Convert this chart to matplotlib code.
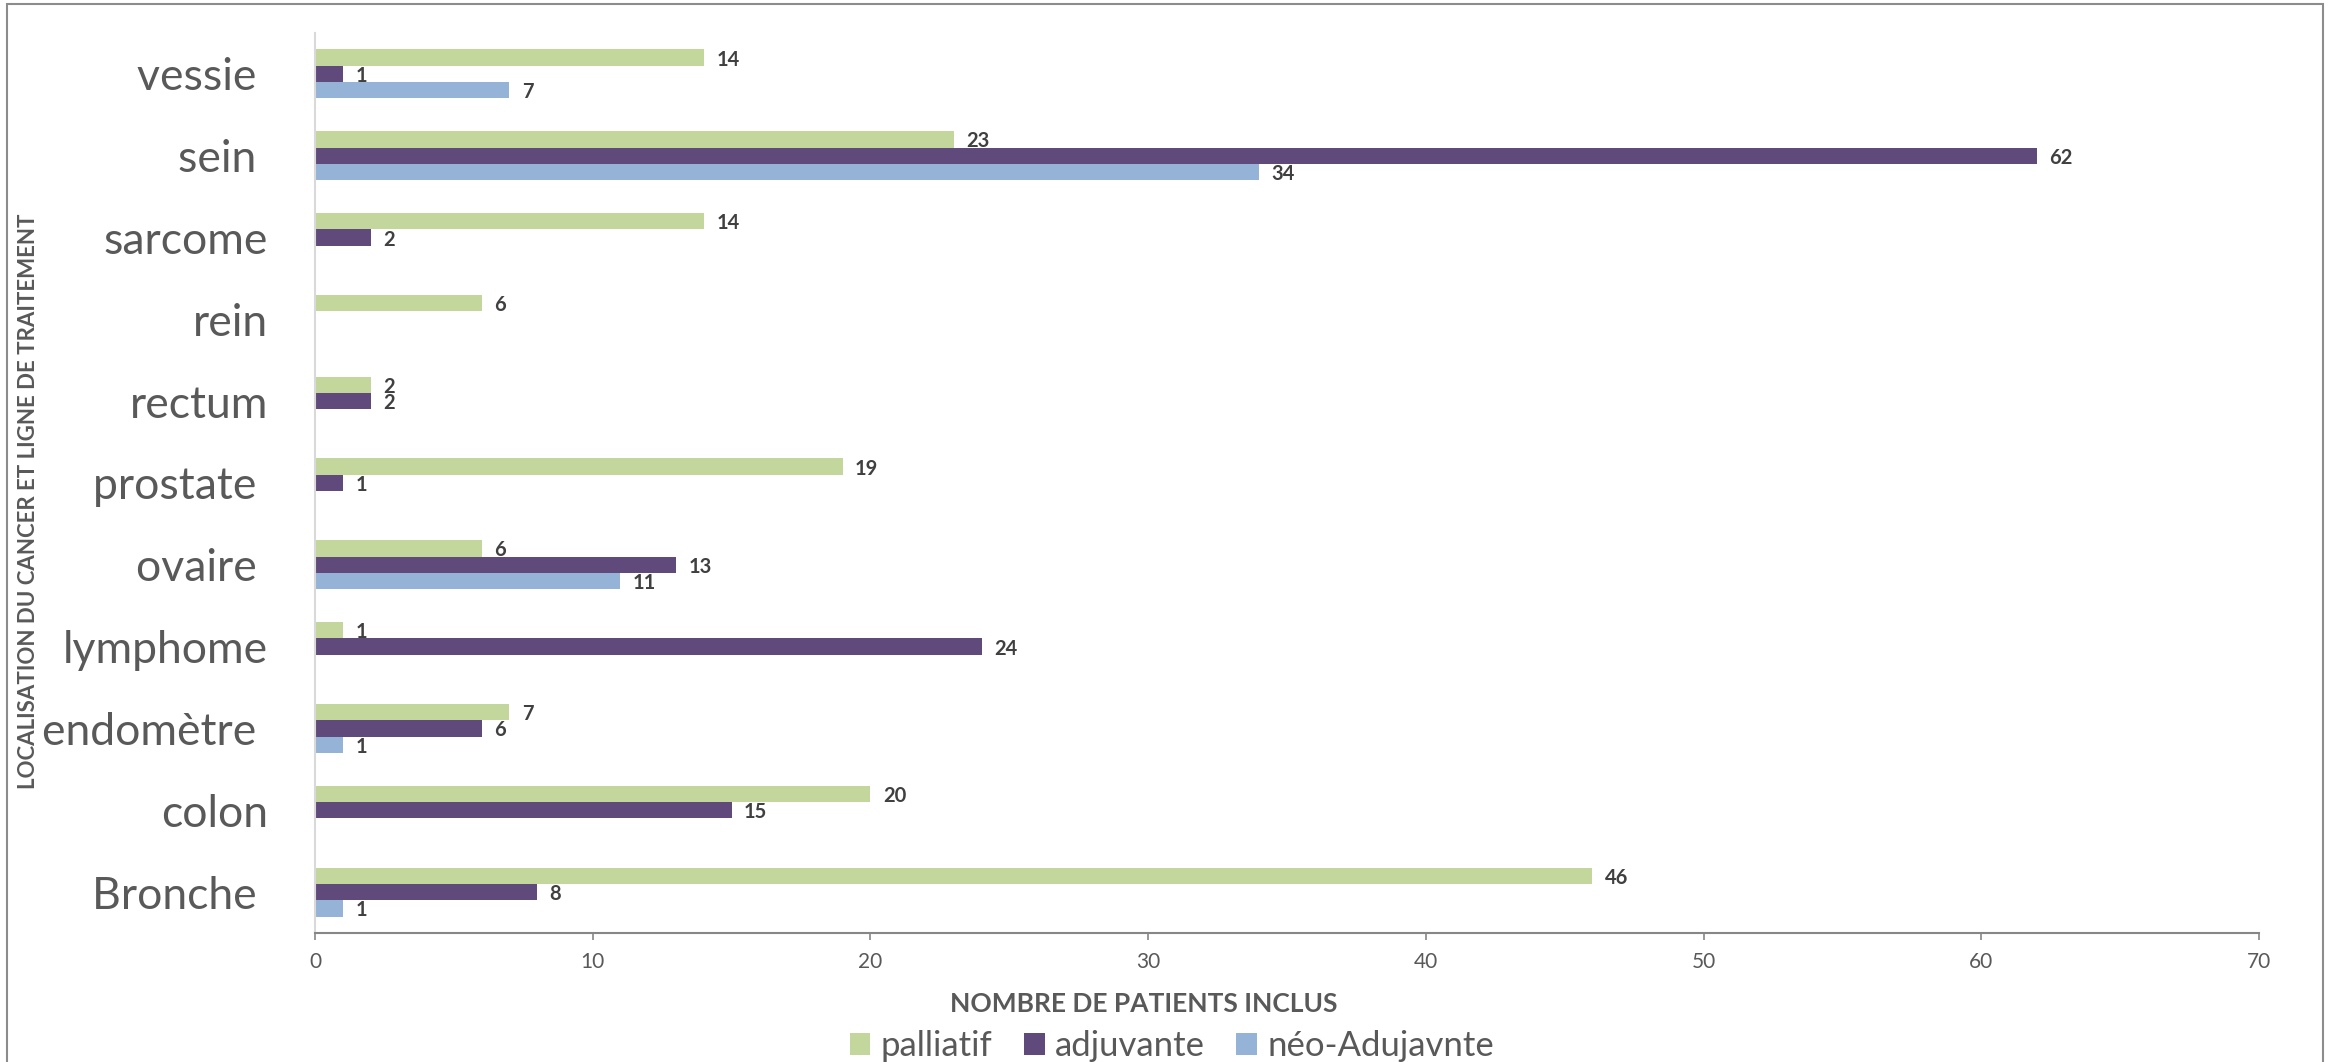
import numpy as np
import matplotlib
matplotlib.use("Agg")
import matplotlib.pyplot as plt
from matplotlib.patches import Rectangle

plt.rcParams['font.family'] = ['Lato', 'DejaVu Sans']

# ---- data (bottom to top, as in the chart) ----
categories = ["Bronche ", "colon", "endomètre ", "lymphome", "ovaire ", "prostate ",
              "rectum", "rein", "sarcome", "sein ", "vessie "]
palliatif = [46, 20, 7, 1, 6, 19, 2, 6, 14, 23, 14]
adjuvante = [8, 15, 6, 24, 13, 1, 2, None, 2, 62, 1]
neo_adjuvante = [1, None, 1, None, 11, None, None, None, None, 34, 7]
series_names = ["palliatif", "adjuvante", "néo-Adujavnte"]
x_ticks = [0, 10, 20, 30, 40, 50, 60, 70]
x_title = "NOMBRE DE PATIENTS INCLUS"
y_title = "LOCALISATION DU CANCER ET LIGNE DE TRAITEMENT"

colors = ["#C3D69B", "#604A7B", "#95B3D7"]
text_grey = "#595959"
label_grey = "#404040"

W, H = 2329, 1062
fig = plt.figure(figsize=(W / 100, H / 100), dpi=100)
ax = fig.add_axes([315 / W, 1 - 933 / H, (2259 - 315) / W, (933 - 33) / H])

y = np.arange(len(categories))
bh = 0.2
offsets = [bh, 0.0, -bh]
all_series = [palliatif, adjuvante, neo_adjuvante]

for vals, off, col, name in zip(all_series, offsets, colors, series_names):
    arr = np.array([np.nan if v is None else v for v in vals], dtype=float)
    bars = ax.barh(y + off, arr, height=bh, color=col, linewidth=0, label=name)
    labels = ["" if v is None else str(v) for v in vals]
    texts = ax.bar_label(bars, labels=labels, padding=9, fontsize=14.5,
                         fontweight='bold', color=label_grey)
    for t in texts:
        t.set_va('center_baseline')

ax.set_xlim(0, 70)
ax.set_ylim(-0.5, len(categories) - 0.5)
ax.set_xticks(x_ticks)
ax.set_xticklabels([str(t) for t in x_ticks])
ax.set_yticks(y)
ax.set_yticklabels(categories)

for s in ["top", "right"]:
    ax.spines[s].set_visible(False)
ax.spines["left"].set_color("#D9D9D9")
ax.spines["left"].set_linewidth(1.5)
ax.spines["bottom"].set_color("#868686")
ax.spines["bottom"].set_linewidth(1.5)

ax.tick_params(axis='x', direction='out', length=5, width=1.2, color="#868686",
               labelsize=15, labelcolor=text_grey, pad=9)
ax.tick_params(axis='y', length=0, labelsize=32, labelcolor=text_grey, pad=34)

fig.text(1144 / W, 1 - 1004 / H, x_title, ha='center', va='center',
         fontsize=19, fontweight='bold', color=text_grey)
fig.text(28.5 / W, 1 - 501 / H, y_title, ha='center', va='center', rotation=90,
         fontsize=16, fontweight='bold', color=text_grey)

leg = fig.legend(loc='center', bbox_to_anchor=(1172 / W, 1 - 1046 / H), ncol=3,
                 frameon=False, fontsize=25, handlelength=0.6, handleheight=0.6,
                 handletextpad=0.3, columnspacing=0.9, borderaxespad=0, borderpad=0)
for t in leg.get_texts():
    t.set_color(text_grey)

fig.patches.append(Rectangle((7 / W, -0.02), (2323 - 7) / W, 1.02 - 4 / H,
                             transform=fig.transFigure, fill=False,
                             edgecolor="#8C8C8C", linewidth=1.5, zorder=-1))

fig.savefig("out.png", dpi=100, facecolor="white")
